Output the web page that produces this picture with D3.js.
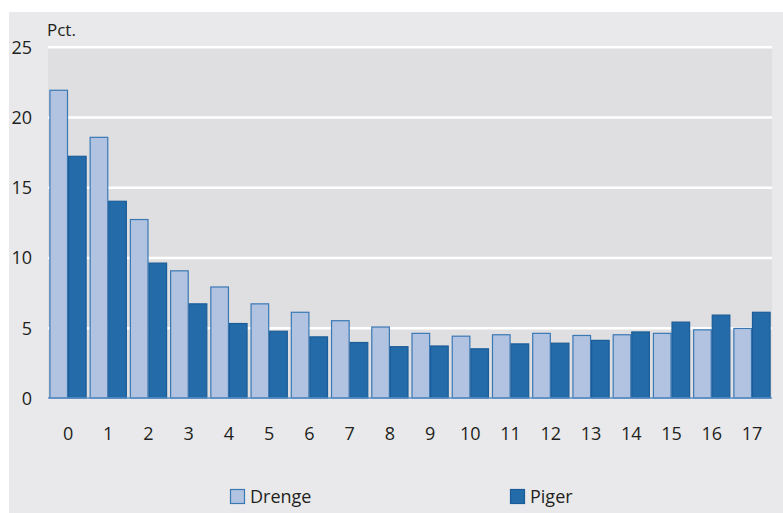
<!DOCTYPE html>
<html>
<head>
<meta charset="utf-8">
<script src="https://cdn.jsdelivr.net/npm/d3@7"></script>
<style>
  html, body { margin: 0; padding: 0; background: #ffffff; }
  svg { display: block; }
  text { font-family: "Open Sans", "Noto Sans", sans-serif; fill: #231f20; }
</style>
</head>
<body>
<svg id="chart" width="783" height="513"></svg>
<script>
// Age groups (years) and share in percent for boys and girls
const categories = ["0","1","2","3","4","5","6","7","8","9","10","11","12","13","14","15","16","17"];
const drenge = [21.9, 18.55, 12.7, 9.05, 7.9, 6.7, 6.1, 5.5, 5.05, 4.6, 4.4, 4.5, 4.6, 4.45, 4.5, 4.6, 4.85, 4.95];
const piger  = [17.2, 14.0, 9.6, 6.7, 5.3, 4.75, 4.35, 3.95, 3.65, 3.7, 3.5, 3.85, 3.9, 4.1, 4.7, 5.4, 5.9, 6.1];
const seriesNames = ["Drenge", "Piger"];
const yTicks = [0, 5, 10, 15, 20, 25];
const unitLabel = "Pct.";

const series = [
  { name: seriesNames[0], values: drenge, fill: "#b1c3e0", stroke: "#3a78b4" },
  { name: seriesNames[1], values: piger,  fill: "#236ca9", stroke: "#1b5c98" }
];

const svg = d3.select("#chart");
const W = 783, H = 513;
const plot = { left: 48, right: 772, top: 46.7, bottom: 398 };

// Panel backgrounds
svg.append("rect").attr("x", 9).attr("y", 12).attr("width", W - 9).attr("height", H - 12)
  .attr("fill", "#e9e9eb");
svg.append("rect").attr("x", plot.left).attr("y", plot.top)
  .attr("width", plot.right - plot.left).attr("height", plot.bottom - plot.top)
  .attr("fill", "#dfdfe1");

const y = d3.scaleLinear().domain([0, 25]).range([plot.bottom, plot.top]);
const x0 = d3.scaleBand().domain(categories).range([plot.left, plot.right])
  .paddingInner(0.075).paddingOuter(0.035);
const x1 = d3.scaleBand().domain(seriesNames).range([0, x0.bandwidth()]).padding(0);

// Horizontal gridlines
const yAxis = d3.axisLeft(y).tickValues(yTicks).tickSize(-(plot.right - plot.left)).tickPadding(14);
const gy = svg.append("g").attr("transform", `translate(${plot.left},0)`).call(yAxis);
gy.select(".domain").remove();
gy.selectAll(".tick line").attr("stroke", "#ffffff").attr("stroke-width", 2.5)
  .attr("opacity", d => d === 0 ? 0 : 1);
gy.selectAll(".tick text").attr("font-size", 18).attr("fill", "#231f20")
  .attr("text-anchor", "end").attr("x", 32 - plot.left).attr("dy", "0.35em");

// Bars
const groups = svg.append("g").selectAll("g").data(categories).join("g")
  .attr("transform", d => `translate(${x0(d)},0)`);
groups.selectAll("rect")
  .data((c, i) => series.map(s => ({ s, v: s.values[i] })))
  .join("rect")
  .attr("x", d => x1(d.s.name) + 0.5)
  .attr("width", x1.bandwidth() - 1)
  .attr("y", d => y(d.v))
  .attr("height", d => y(0) - y(d.v))
  .attr("fill", d => d.s.fill)
  .attr("stroke", d => d.s.stroke)
  .attr("stroke-width", 1.2);

// Baseline
svg.append("line").attr("x1", plot.left).attr("x2", plot.right)
  .attr("y1", y(0)).attr("y2", y(0)).attr("stroke", "#5a8ec4").attr("stroke-width", 1.5);

// Category axis
const xAxis = d3.axisBottom(x0).tickSize(0).tickPadding(0);
const gx = svg.append("g").attr("transform", `translate(0,${y(0)})`).call(xAxis);
gx.select(".domain").remove();
gx.selectAll(".tick text").attr("font-size", 18).attr("fill", "#231f20")
  .attr("y", 42).attr("dy", 0);

// Unit label
svg.append("text").attr("x", 47).attr("y", 36).attr("font-size", 17).text(unitLabel);

// Legend
const legendX = [230, 510];
const leg = svg.append("g").selectAll("g").data(series).join("g")
  .attr("transform", (d, i) => `translate(${legendX[i]},489)`);
leg.append("rect").attr("x", 0.5).attr("y", 0.5).attr("width", 14).attr("height", 14)
  .attr("fill", d => d.fill).attr("stroke", d => d.stroke).attr("stroke-width", 1.2);
leg.append("text").attr("x", 20).attr("y", 14).attr("font-size", 18).text(d => d.name);
</script>
</body>
</html>
